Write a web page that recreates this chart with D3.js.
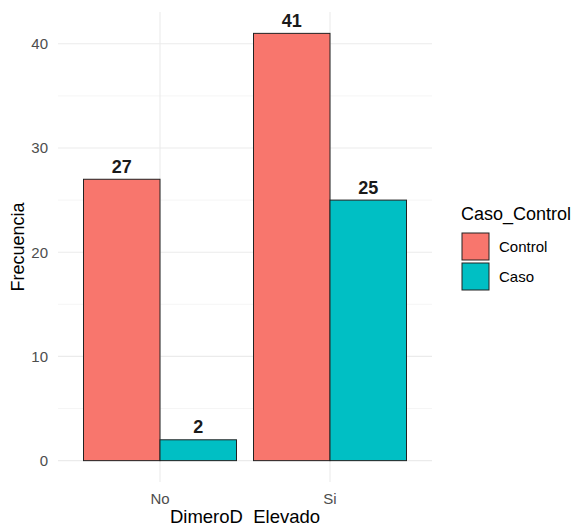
<!DOCTYPE html>
<html><head><meta charset="utf-8">
<script src="https://cdn.jsdelivr.net/npm/d3@7"></script>
<style>body{margin:0;background:#fff;} text{font-family:"Liberation Sans",Arial,sans-serif;}</style>
</head><body>
<svg id="chart" width="574" height="527"></svg>
<script>
const categories = ["No", "Si"];
const groups = ["Control", "Caso"];
const controlValues = [27, 41];
const casoValues = [2, 25];
const yTicks = [0, 10, 20, 30, 40];
const yMinorTicks = [5, 15, 25, 35];
const colors = ["#F8766D", "#00BFC4"];

const data = [];
categories.forEach((c, i) => {
  data.push({cat: c, group: "Control", value: controlValues[i]});
  data.push({cat: c, group: "Caso", value: casoValues[i]});
});

const svg = d3.select("#chart");
const panel = {left: 58, right: 432, top: 12, bottom: 482};

const maxV = d3.max(data, d => d.value);
const y = d3.scaleLinear().domain([-0.05 * maxV, maxV * 1.05]).range([panel.bottom, panel.top]);

const xc = d3.scaleLinear().domain([1 - 0.6, categories.length + 0.6]).range([panel.left, panel.right]);
const bw = 0.45;
const color = d3.scaleOrdinal().domain(groups).range(colors);

// grid
const g = svg.append("g");
g.selectAll(".minor").data(yMinorTicks).enter().append("line")
  .attr("x1", panel.left).attr("x2", panel.right)
  .attr("y1", d => y(d)).attr("y2", d => y(d))
  .attr("stroke", "#f2f2f2").attr("stroke-width", 0.8);
g.selectAll(".major").data(yTicks).enter().append("line")
  .attr("x1", panel.left).attr("x2", panel.right)
  .attr("y1", d => y(d)).attr("y2", d => y(d))
  .attr("stroke", "#ebebeb").attr("stroke-width", 1.1);
g.selectAll(".vmajor").data(categories).enter().append("line")
  .attr("x1", (d, i) => xc(i + 1)).attr("x2", (d, i) => xc(i + 1))
  .attr("y1", panel.top).attr("y2", panel.bottom)
  .attr("stroke", "#ebebeb").attr("stroke-width", 1.1);

// bars
const xPos = d => {
  const i = categories.indexOf(d.cat) + 1;
  const gi = groups.indexOf(d.group);
  return i - 0.45 + gi * bw;
};
svg.selectAll(".bar").data(data).enter().append("rect")
  .attr("x", d => xc(xPos(d)))
  .attr("width", d => xc(xPos(d) + bw) - xc(xPos(d)))
  .attr("y", d => y(d.value))
  .attr("height", d => y(0) - y(d.value))
  .attr("fill", d => color(d.group))
  .attr("stroke", "#222").attr("stroke-width", 1);

// labels
svg.selectAll(".lbl").data(data).enter().append("text")
  .attr("x", d => xc(xPos(d) + bw / 2))
  .attr("y", d => y(d.value) - 6.5)
  .attr("text-anchor", "middle")
  .attr("font-size", 18).attr("font-weight", "bold").attr("fill", "#1a1a1a")
  .text(d => d.value);

// y tick labels
svg.selectAll(".yt").data(yTicks).enter().append("text")
  .attr("x", 48).attr("y", d => y(d)).attr("dy", "0.36em")
  .attr("text-anchor", "end").attr("font-size", 15).attr("fill", "#4d4d4d")
  .text(d => d);

// x tick labels
svg.selectAll(".xt").data(categories).enter().append("text")
  .attr("x", (d, i) => xc(i + 1)).attr("y", 504)
  .attr("text-anchor", "middle").attr("font-size", 15).attr("fill", "#4d4d4d")
  .text(d => d);

// axis titles
svg.append("text").attr("x", (panel.left + panel.right) / 2).attr("y", 523)
  .attr("text-anchor", "middle").attr("font-size", 18.5).attr("fill", "#000")
  .attr("xml:space", "preserve").style("white-space", "pre")
  .text("DimeroD  Elevado");
svg.append("text").attr("transform", `translate(24,${(panel.top + panel.bottom) / 2}) rotate(-90)`)
  .attr("text-anchor", "middle").attr("font-size", 18).attr("fill", "#000")
  .text("Frecuencia");

// legend
const lg = svg.append("g").attr("transform", "translate(461,0)");
lg.append("text").attr("x", 0).attr("y", 220).attr("font-size", 18).attr("fill", "#000").text("Caso_Control");
groups.forEach((gname, i) => {
  lg.append("rect").attr("x", 1).attr("y", 233 + i * 30).attr("width", 27).attr("height", 27)
    .attr("fill", color(gname)).attr("stroke", "#222").attr("stroke-width", 1);
  lg.append("text").attr("x", 38).attr("y", 247 + i * 30).attr("dy", "0.36em")
    .attr("font-size", 15).attr("fill", "#000").text(gname);
});
</script>
</body></html>
